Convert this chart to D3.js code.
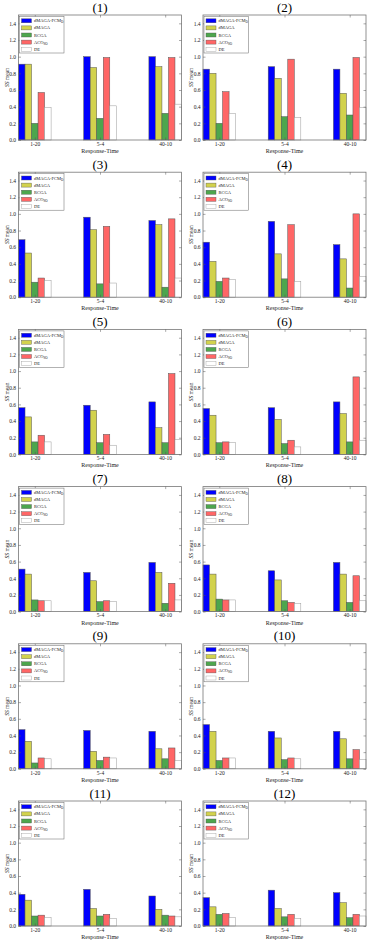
<!DOCTYPE html>
<html>
<head>
<meta charset="utf-8">
<script src="https://cdn.jsdelivr.net/npm/d3@7"></script>
<style>
  body { margin: 0; background: #fff; }
  svg { display: block; font-family: "Liberation Serif", "DejaVu Serif", serif; }
</style>
</head>
<body>
<svg id="fig" width="369" height="943"></svg>
<script>
// groupes sur l'axe x
var categories = ["1-20", "5-4", "40-10"];
var seriesNames = ["dMAGA-FCM", "dMAGA", "RCGA", "ACO", "DE"];
var seriesSub = ["D", "", "", "SO", ""];
var yTicks = [0.0, 0.2, 0.4, 0.6, 0.8, 1.0, 1.2, 1.4];

// une ligne par sous-figure (1..12), une valeur par groupe
var dmagaFcm = [
  [0.91, 1.00, 1.00], [0.85, 0.88, 0.85], [0.69, 0.96, 0.92], [0.66, 0.91, 0.63],
  [0.56, 0.59, 0.63], [0.55, 0.56, 0.63], [0.51, 0.47, 0.59], [0.56, 0.49, 0.59],
  [0.47, 0.46, 0.45], [0.53, 0.45, 0.45], [0.38, 0.44, 0.36], [0.34, 0.43, 0.40]
];
var dmaga = [
  [0.91, 0.87, 0.88], [0.80, 0.74, 0.56], [0.53, 0.81, 0.87], [0.43, 0.52, 0.46],
  [0.45, 0.53, 0.32], [0.47, 0.42, 0.49], [0.45, 0.37, 0.47], [0.45, 0.38, 0.45],
  [0.33, 0.21, 0.24], [0.45, 0.37, 0.36], [0.31, 0.21, 0.20], [0.23, 0.21, 0.28]
];
var rcga = [
  [0.20, 0.26, 0.32], [0.20, 0.28, 0.30], [0.18, 0.16, 0.12], [0.19, 0.22, 0.11],
  [0.15, 0.14, 0.14], [0.14, 0.13, 0.15], [0.14, 0.12, 0.10], [0.15, 0.13, 0.11],
  [0.07, 0.10, 0.12], [0.10, 0.11, 0.12], [0.12, 0.12, 0.13], [0.14, 0.11, 0.10]
];
var acoSo = [
  [0.57, 0.99, 0.99], [0.58, 0.97, 0.99], [0.23, 0.85, 0.94], [0.23, 0.87, 1.00],
  [0.23, 0.24, 0.97], [0.15, 0.17, 0.93], [0.13, 0.13, 0.34], [0.14, 0.11, 0.43],
  [0.13, 0.14, 0.25], [0.13, 0.13, 0.23], [0.13, 0.14, 0.12], [0.15, 0.14, 0.14]
];
var de = [
  [0.39, 0.41, 0.43], [0.32, 0.27, 0.39], [0.20, 0.17, 0.23], [0.21, 0.19, 0.25],
  [0.15, 0.11, 0.18], [0.14, 0.09, 0.17], [0.13, 0.12, 0.14], [0.14, 0.10, 0.13],
  [0.12, 0.13, 0.10], [0.13, 0.12, 0.11], [0.10, 0.09, 0.11], [0.10, 0.09, 0.12]
];

var allSeries = [dmagaFcm, dmaga, rcga, acoSo, de];
var colors = ["#0000ff", "#d2d24d", "#4da64d", "#ff6666", "#ffffff"];

var svg = d3.select("#fig");
var colLeft = [18.5, 203], plotW = 163, plotH = 125, rowH = 157.2, firstBottom = 140;
var barW = 0.1;

function drawPanel(p) {
  var row = Math.floor(p / 2), col = p % 2;
  var left = colLeft[col], bottom = firstBottom + row * rowH, plotTop = bottom - plotH;

  var x = d3.scaleLinear().domain([0, 2.5]).range([left, left + plotW]);
  var y = d3.scaleLinear().domain([0, 1.5]).range([bottom, plotTop]);
  var g = svg.append("g").attr("class", "panel");

  // titre
  g.append("text")
    .attr("x", left + plotW / 2).attr("y", plotTop - 3.5)
    .attr("text-anchor", "middle").attr("font-size", 13).attr("fill", "#000")
    .text("(" + (p + 1) + ")");

  // barres
  allSeries.forEach(function(s, si) {
    g.selectAll(null).data(s[p]).enter().append("rect")
      .attr("x", function(d, gi) { return x(gi + si * barW); })
      .attr("width", x(barW) - x(0))
      .attr("y", function(d) { return y(d); })
      .attr("height", function(d) { return y(0) - y(d); })
      .attr("fill", colors[si])
      .attr("stroke", si == 4 ? "#999" : "#555")
      .attr("stroke-width", 0.5);
  });

  // cadre + ticks vers l'intérieur
  g.append("rect").attr("x", left).attr("y", plotTop).attr("width", plotW).attr("height", plotH)
    .attr("fill", "none").attr("stroke", "#777").attr("stroke-width", 0.8);

  var yAxisL = d3.axisLeft(y).tickValues(yTicks).tickSize(-2.5).tickPadding(2.5).tickFormat(d3.format(".1f"));
  var yAxisR = d3.axisRight(y).tickValues(yTicks).tickSize(-2.5).tickFormat("");
  var xTickVals = categories.map(function(c, i) { return i + 2.5 * barW; });
  var xAxisB = d3.axisBottom(x).tickValues(xTickVals).tickSize(-2.5).tickPadding(2)
    .tickFormat(function(d, i) { return categories[i]; });
  var xAxisT = d3.axisTop(x).tickValues(xTickVals).tickSize(-2.5).tickFormat("");

  [[yAxisL, "translate(" + left + ",0)"], [yAxisR, "translate(" + (left + plotW) + ",0)"],
   [xAxisB, "translate(0," + bottom + ")"], [xAxisT, "translate(0," + plotTop + ")"]].forEach(function(a) {
    var ax = g.append("g").attr("transform", a[1]).call(a[0]);
    ax.select(".domain").remove();
    ax.selectAll("line").attr("stroke", "#555").attr("stroke-width", 0.5);
    ax.selectAll("text").attr("font-size", 5.5).attr("font-family", "Liberation Serif").attr("fill", "#222");
  });

  // libellés des axes
  g.append("text")
    .attr("x", left + plotW / 2).attr("y", bottom + 13)
    .attr("text-anchor", "middle").attr("font-size", 6).attr("fill", "#222")
    .text("Response-Time");
  var yl = g.append("text")
    .attr("transform", "translate(" + (left - 10) + "," + (plotTop + plotH / 2) + ") rotate(-90)")
    .attr("text-anchor", "middle").attr("font-size", 5.5).attr("fill", "#222");
  yl.append("tspan").attr("font-style", "italic").text("SS");
  yl.append("tspan").text(" mean");

  // légende
  var lx = left + 1, ly = plotTop + 1.5;
  g.append("rect").attr("x", lx).attr("y", ly).attr("width", 44.5).attr("height", 36.5)
    .attr("fill", "#fff").attr("stroke", "#666").attr("stroke-width", 0.5);
  seriesNames.forEach(function(n, si) {
    var cy = ly + 4.3 + si * 7.1;
    g.append("rect").attr("x", lx + 2).attr("y", cy - 2).attr("width", 10).attr("height", 4)
      .attr("fill", colors[si]).attr("stroke", si == 4 ? "#999" : "#555").attr("stroke-width", 0.4);
    var t = g.append("text").attr("x", lx + 14.5).attr("y", cy + 1.5)
      .attr("font-size", 4.5).attr("fill", "#222").text(n);
    if (seriesSub[si]) t.append("tspan").attr("font-size", 3.2).attr("dy", 1).text(seriesSub[si]);
  });
}

for (var p = 0; p < 12; p++) drawPanel(p);
</script>
</body>
</html>
